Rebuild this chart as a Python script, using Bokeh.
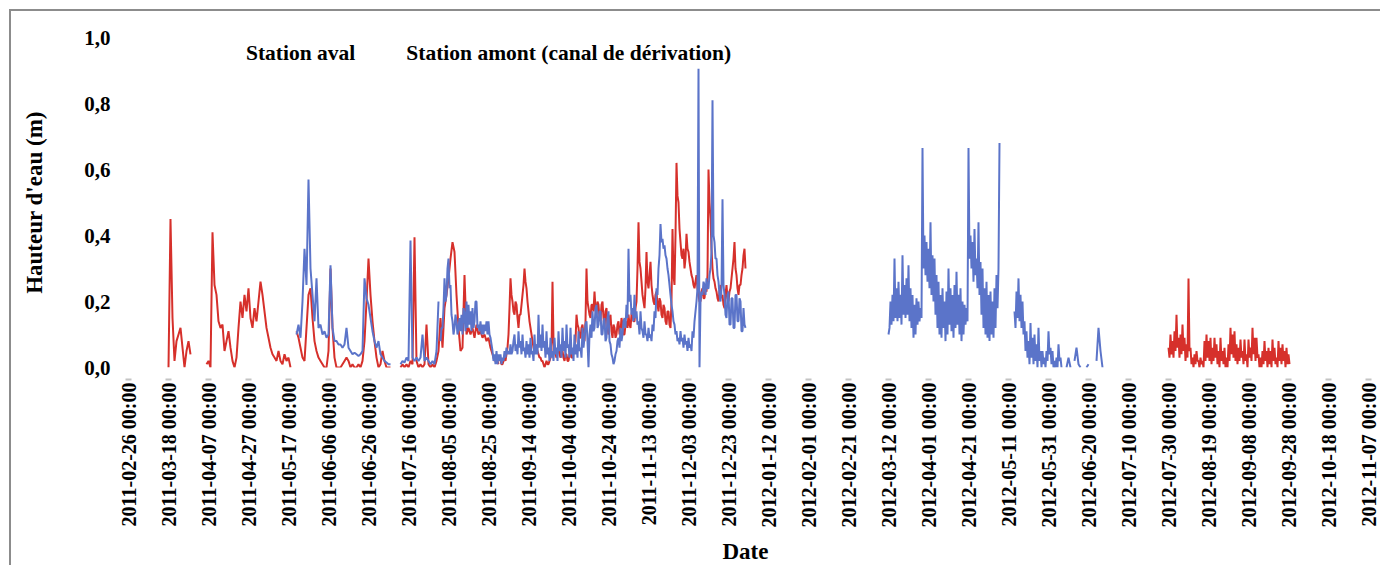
import math
import numpy as np
import pandas as pd
from bokeh.plotting import figure
from bokeh.models import (Range1d, FixedTicker, DatetimeTickFormatter,
                          CustomJSTickFormatter, Legend, LegendItem)
from bokeh.embed import file_html
from bokeh.resources import INLINE

# ---------------- data ----------------
tick_dates = ["2011-02-26", "2011-03-18", "2011-04-07", "2011-04-27", "2011-05-17",
              "2011-06-06", "2011-06-26", "2011-07-16", "2011-08-05", "2011-08-25",
              "2011-09-14", "2011-10-04", "2011-10-24", "2011-11-13", "2011-12-03",
              "2011-12-23", "2012-01-12", "2012-02-01", "2012-02-21", "2012-03-12",
              "2012-04-01", "2012-04-21", "2012-05-11", "2012-05-31", "2012-06-20",
              "2012-07-10", "2012-07-30", "2012-08-19", "2012-09-08", "2012-09-28",
              "2012-10-18", "2012-11-07"]
y_ticks = [0.0, 0.2, 0.4, 0.6, 0.8, 1.0]

# Station aval (water height in m); daily readings unless noted
aval_a_start = "2011-03-18"
aval_a = [0.0, 0.45, 0.15, 0.02, 0.08, 0.10, 0.12, 0.06, 0.0, 0.05, 0.08, 0.04]

aval_b_start = "2011-04-06"
aval_b = [0.01, 0.02, 0.0, 0.41, 0.25, 0.22, 0.14, 0.12, 0.13, 0.05,
          0.08, 0.11, 0.06, 0.02, 0.0, 0.03, 0.12, 0.20, 0.15, 0.22,
          0.17, 0.24, 0.15, 0.12, 0.18, 0.14, 0.20, 0.26, 0.22, 0.17,
          0.12, 0.09, 0.06, 0.04, 0.03, 0.02, 0.05, 0.02, 0.01, 0.04,
          0.02, 0.03, 0.0]

aval_c_start = "2011-05-21"
aval_c = [0.11, 0.09, 0.06, 0.03, 0.02, 0.12, 0.22, 0.24, 0.15, 0.08,
          0.05, 0.03, 0.02, 0.01, 0.0, 0.0, 0.05, 0.30, 0.12, 0.03,
          0.0, 0.0, 0.0, 0.01, 0.02, 0.03, 0.02, 0.0, 0.01, 0.0,
          0.0, 0.01, 0.0, 0.02, 0.08, 0.20, 0.33, 0.22, 0.14, 0.08,
          0.03, 0.0, 0.01, 0.05, 0.02, 0.0, 0.0, 0.0]

aval_d_start = "2011-07-12"
aval_d = [0.0, 0.01, 0.0, 0.01, 0.0, 0.02, 0.01, 0.395, 0.02, 0.0,
          0.01, 0.0, 0.01, 0.13, 0.01, 0.0, 0.01, 0.0, 0.02, 0.05,
          0.15, 0.06, 0.18, 0.22, 0.27, 0.33, 0.38, 0.35, 0.22, 0.12,
          0.05, 0.06, 0.28, 0.10, 0.12, 0.10, 0.12, 0.09, 0.13, 0.10,
          0.11, 0.09, 0.10, 0.08, 0.09, 0.06, 0.04, 0.02, 0.03, 0.01]

# 12-hourly readings (00:00, 12:00)
aval_e_start = "2011-08-31"
aval_e = [0.02, 0.01, 0.01, 0.02, 0.03, 0.02, 0.04, 0.06, 0.10, 0.18,   # 08-31
          0.27, 0.22, 0.20, 0.17, 0.16, 0.20, 0.19, 0.15, 0.12, 0.16,   # 09-05
          0.16, 0.19, 0.22, 0.25, 0.30, 0.26, 0.24, 0.20, 0.17, 0.14,   # 09-10
          0.12, 0.10, 0.08, 0.06, 0.05, 0.07, 0.06, 0.05, 0.04, 0.03,   # 09-15
          0.03, 0.02, 0.02, 0.01, 0.0, 0.01, 0.02, 0.01, 0.01, 0.02,    # 09-20
          0.03, 0.05, 0.26, 0.08, 0.05, 0.04, 0.03, 0.05, 0.06, 0.04,   # 09-25
          0.03, 0.05, 0.05, 0.03, 0.02, 0.04, 0.04, 0.02, 0.02, 0.04,   # 09-30
          0.05, 0.03, 0.03, 0.05, 0.06, 0.08, 0.16, 0.13, 0.12, 0.09,   # 10-05
          0.09, 0.12, 0.13, 0.10, 0.08, 0.14, 0.30, 0.20, 0.18, 0.16,   # 10-10
          0.15, 0.19, 0.19, 0.17, 0.23, 0.18, 0.16, 0.20, 0.19, 0.15,   # 10-15
          0.14, 0.19, 0.20, 0.15, 0.12, 0.17, 0.18, 0.12, 0.10, 0.15,   # 10-20
          0.16, 0.11, 0.09, 0.13, 0.12, 0.09, 0.10, 0.13, 0.14, 0.10,   # 10-25
          0.11, 0.15, 0.13, 0.10, 0.10, 0.13, 0.14, 0.12, 0.16, 0.13,   # 10-30
          0.12, 0.16, 0.18, 0.14, 0.14, 0.18, 0.20, 0.30, 0.44, 0.32,   # 11-04
          0.30, 0.26, 0.22, 0.20, 0.18, 0.24, 0.35, 0.26, 0.24, 0.28,   # 11-09
          0.32, 0.25, 0.22, 0.20, 0.19, 0.22, 0.23, 0.19, 0.17, 0.21,   # 11-14
          0.20, 0.16, 0.15, 0.19, 0.18, 0.14, 0.13, 0.17, 0.17, 0.13,   # 11-19
          0.12, 0.20, 0.42, 0.28, 0.25, 0.40, 0.62, 0.52, 0.50, 0.42,   # 11-24
          0.38, 0.34, 0.33, 0.36, 0.30, 0.33, 0.405, 0.36, 0.35, 0.32,  # 11-29
          0.30, 0.28, 0.27, 0.25, 0.24, 0.26, 0.28, 0.24, 0.22, 0.20,   # 12-04
          0.20, 0.23, 0.24, 0.21, 0.21, 0.24, 0.23, 0.28, 0.60, 0.50,   # 12-09
          0.45, 0.36, 0.30, 0.27, 0.26, 0.24, 0.23, 0.21, 0.20, 0.23,   # 12-14
          0.25, 0.21, 0.22, 0.19, 0.18, 0.22, 0.25, 0.21, 0.20, 0.23,   # 12-19
          0.24, 0.27, 0.30, 0.33, 0.38, 0.30, 0.28, 0.24, 0.22, 0.25,   # 12-24
          0.25, 0.28, 0.30, 0.34, 0.36, 0.30]                           # 12-29

aval_f_start = "2012-07-30"
aval_f = [0.06, 0.03, 0.10, 0.04, 0.08, 0.03, 0.11, 0.05, 0.16, 0.06,
          0.09, 0.03, 0.10, 0.04, 0.13, 0.05, 0.09, 0.02, 0.07, 0.03,
          0.27, 0.05, 0.06, 0.01, 0.03, 0.0, 0.04, 0.01, 0.05, 0.02,
          0.02, 0.0, 0.03, 0.01, 0.02, 0.0, 0.08, 0.02, 0.10, 0.03,
          0.08, 0.02, 0.09, 0.01, 0.06, 0.02, 0.09, 0.03, 0.07, 0.01,
          0.05, 0.0, 0.09, 0.02, 0.05, 0.01, 0.06, 0.0, 0.03, 0.0,
          0.07, 0.02, 0.12, 0.04, 0.10, 0.03, 0.11, 0.02, 0.07, 0.01,
          0.06, 0.02, 0.085, 0.03, 0.05, 0.01, 0.085, 0.02, 0.04, 0.0,
          0.085, 0.03, 0.06, 0.02, 0.12, 0.04, 0.09, 0.02, 0.09, 0.03,
          0.04, 0.0, 0.03, 0.0, 0.05, 0.01, 0.08, 0.02, 0.05, 0.0,
          0.06, 0.01, 0.05, 0.0, 0.085, 0.02, 0.06, 0.01, 0.03, 0.0,
          0.08, 0.02, 0.06, 0.01, 0.07, 0.02, 0.05, 0.0, 0.06, 0.01,
          0.04, 0.01]

# Station amont (canal de dérivation)
amont_a_start = "2011-05-21"
amont_a = [0.10, 0.13, 0.09, 0.20, 0.36, 0.25, 0.57, 0.30, 0.22, 0.14,
           0.27, 0.12, 0.13, 0.10, 0.11, 0.09, 0.10, 0.31, 0.12, 0.08,
           0.08, 0.07, 0.07, 0.06, 0.07, 0.12, 0.06, 0.05, 0.04, 0.045,
           0.04, 0.035, 0.04, 0.05, 0.27, 0.21, 0.19, 0.15, 0.11, 0.08,
           0.06, 0.08, 0.04, 0.03, 0.02, 0.015, 0.01, 0.01]

amont_b_start = "2011-07-12"
amont_b = [0.01, 0.02, 0.015, 0.03, 0.02, 0.385, 0.03, 0.02, 0.03, 0.02,
           0.03, 0.10, 0.02, 0.03, 0.02, 0.01, 0.02, 0.01, 0.05, 0.20]

# 12-hourly readings (00:00, 12:00)
amont_c_start = "2011-08-01"
amont_c = [0.08, 0.12, 0.12, 0.18, 0.27, 0.20, 0.22, 0.30, 0.33, 0.24,   # 08-01
           0.25, 0.16, 0.14, 0.10, 0.12, 0.16, 0.14, 0.10, 0.12, 0.15,   # 08-06
           0.11, 0.16, 0.10, 0.18, 0.16, 0.11, 0.20, 0.12, 0.19, 0.13,   # 08-11
           0.17, 0.11, 0.18, 0.12, 0.14, 0.20, 0.20, 0.12, 0.13, 0.11,   # 08-16
           0.14, 0.10, 0.13, 0.10, 0.13, 0.11, 0.14, 0.10, 0.14, 0.10,   # 08-21
           0.09, 0.07, 0.05, 0.02, 0.04, 0.01, 0.05, 0.01, 0.04, 0.02,   # 08-26
           0.04, 0.01, 0.03, 0.02, 0.05, 0.03, 0.06, 0.04, 0.05, 0.04,   # 08-31
           0.07, 0.04, 0.05, 0.08, 0.10, 0.05, 0.07, 0.04, 0.11, 0.06,   # 09-05
           0.08, 0.04, 0.10, 0.05, 0.06, 0.03, 0.08, 0.04, 0.07, 0.03,   # 09-10
           0.09, 0.04, 0.05, 0.02, 0.10, 0.04, 0.07, 0.04, 0.16, 0.06,   # 09-15
           0.10, 0.05, 0.13, 0.06, 0.08, 0.03, 0.11, 0.04, 0.06, 0.02,   # 09-20
           0.09, 0.03, 0.05, 0.02, 0.09, 0.04, 0.06, 0.02, 0.11, 0.05,   # 09-25
           0.07, 0.03, 0.12, 0.05, 0.08, 0.03, 0.13, 0.06, 0.07, 0.03,   # 09-30
           0.12, 0.04, 0.06, 0.02, 0.10, 0.04, 0.07, 0.03, 0.11, 0.05,   # 10-05
           0.06, 0.03, 0.12, 0.06, 0.09, 0.13, 0.14, 0.08, 0.0, 0.10,    # 10-10
           0.13, 0.09, 0.17, 0.11, 0.12, 0.18, 0.19, 0.12, 0.13, 0.17,   # 10-15
           0.17, 0.10, 0.10, 0.14, 0.15, 0.08, 0.09, 0.15, 0.17, 0.08,   # 10-20
           0.07, 0.04, 0.03, 0.01, 0.02, 0.04, 0.05, 0.08, 0.09, 0.06,   # 10-25
           0.12, 0.08, 0.10, 0.14, 0.15, 0.12, 0.19, 0.15, 0.36, 0.20,   # 10-30
           0.22, 0.16, 0.18, 0.14, 0.22, 0.15, 0.17, 0.13, 0.14, 0.10,   # 11-04
           0.17, 0.12, 0.11, 0.09, 0.14, 0.10, 0.10, 0.08, 0.12, 0.09,   # 11-09
           0.10, 0.08, 0.13, 0.11, 0.17, 0.15, 0.24, 0.22, 0.30, 0.34,   # 11-14
           0.435, 0.38, 0.39, 0.36, 0.37, 0.34, 0.33, 0.30, 0.28, 0.25,  # 11-19
           0.22, 0.19, 0.17, 0.14, 0.13, 0.10, 0.11, 0.08, 0.09, 0.07,   # 11-24
           0.11, 0.08, 0.09, 0.06, 0.10, 0.07, 0.08, 0.05, 0.09, 0.06,   # 11-29
           0.07, 0.05, 0.11, 0.09, 0.14, 0.17, 0.20, 0.24, 0.905, 0.0,   # 12-04
           0.20, 0.23, 0.22, 0.26, 0.25, 0.22, 0.27, 0.24, 0.24, 0.28,   # 12-09
           0.30, 0.35, 0.81, 0.40, 0.38, 0.33, 0.33, 0.28, 0.26, 0.22,   # 12-14
           0.20, 0.24, 0.51, 0.25, 0.22, 0.16, 0.15, 0.22, 0.23, 0.13,   # 12-19
           0.13, 0.21, 0.21, 0.12, 0.12, 0.22, 0.22, 0.14, 0.14, 0.21,   # 12-24
           0.20, 0.11, 0.11, 0.18, 0.13, 0.12]                           # 12-29

amont_d_start = "2012-03-12"
amont_d = [0.10, 0.12, 0.20, 0.13, 0.22, 0.14, 0.33, 0.15, 0.24, 0.14,
           0.26, 0.15, 0.22, 0.13, 0.34, 0.16, 0.25, 0.15, 0.27, 0.16,
           0.31, 0.14, 0.24, 0.12, 0.22, 0.09, 0.19, 0.10, 0.21, 0.13,
           0.20, 0.14, 0.18, 0.15, 0.665, 0.30, 0.40, 0.28, 0.38, 0.26,
           0.36, 0.24, 0.44, 0.22, 0.34, 0.20, 0.33, 0.16, 0.28, 0.12,
           0.26, 0.10, 0.22, 0.09, 0.24, 0.12, 0.20, 0.08, 0.23, 0.10,
           0.30, 0.13, 0.24, 0.11, 0.22, 0.09, 0.25, 0.12, 0.29, 0.13,
           0.22, 0.10, 0.24, 0.08, 0.20, 0.10, 0.19, 0.13, 0.18, 0.14,
           0.665, 0.33, 0.40, 0.30, 0.38, 0.26, 0.42, 0.28, 0.33, 0.24,
           0.44, 0.22, 0.32, 0.16, 0.30, 0.12, 0.24, 0.10, 0.26, 0.09,
           0.22, 0.08, 0.23, 0.10, 0.20, 0.09, 0.24, 0.12, 0.28, 0.18,
           0.30, 0.68]

amont_e_start = "2012-05-14"
amont_e = [0.17, 0.12, 0.23, 0.15, 0.27, 0.14, 0.22, 0.12, 0.20, 0.10,
           0.14, 0.05, 0.11, 0.03, 0.08, 0.01, 0.135, 0.03, 0.09, 0.01,
           0.10, 0.02, 0.07, 0.0, 0.12, 0.02, 0.05, 0.0, 0.05, 0.01,
           0.03, 0.0, 0.05, 0.02, 0.11, 0.04, 0.06, 0.01, 0.05, 0.0,
           0.02, 0.0, 0.03, 0.0, 0.07, 0.02, 0.03, 0.0]

amont_f_start = "2012-06-09"
amont_f = [0.0, 0.03, 0.0]

amont_g_start = "2012-06-13"
amont_g = [0.02, 0.06, 0.01, 0.0]

amont_h_start = "2012-06-19"
amont_h = [0.0, 0.01]

amont_i_start = "2012-06-24"
amont_i = [0.02, 0.12, 0.05, 0.0]


def build(segments):
    xs, ys = [], []
    for start, vals, step_h in segments:
        d0 = pd.Timestamp(start)
        for i, v in enumerate(vals):
            xs.append(d0 + pd.Timedelta(hours=i * step_h))
            ys.append(v)
        xs.append(d0 + pd.Timedelta(hours=len(vals) * step_h))
        ys.append(np.nan)
    return xs, ys


aval_x, aval_y = build([(aval_a_start, aval_a, 24), (aval_b_start, aval_b, 24),
                        (aval_c_start, aval_c, 24), (aval_d_start, aval_d, 24),
                        (aval_e_start, aval_e, 12), (aval_f_start, aval_f, 12)])
amont_x, amont_y = build([(amont_a_start, amont_a, 24), (amont_b_start, amont_b, 24),
                          (amont_c_start, amont_c, 12), (amont_d_start, amont_d, 12),
                          (amont_e_start, amont_e, 12), (amont_f_start, amont_f, 24),
                          (amont_g_start, amont_g, 24), (amont_h_start, amont_h, 24),
                          (amont_i_start, amont_i, 24)])

# ---------------- figure ----------------
FONT = "Liberation Serif"
RED = "#d6302b"
BLUE = "#5b74c9"

p = figure(x_axis_type="datetime", output_backend="svg", toolbar_location=None,
           frame_width=1254, frame_height=330,
           x_range=Range1d(pd.Timestamp("2011-02-21"), pd.Timestamp("2012-11-09")),
           y_range=Range1d(0, 1.0),
           min_border_left=107, min_border_top=26, min_border_right=10,
           min_border_bottom=0, background_fill_color="white",
           styles={"margin-left": "11px", "margin-top": "11px",
                   "box-shadow": "-2px -2px 0px 0px #8c8c8c"})
p.outline_line_color = None
p.xgrid.grid_line_color = None
p.ygrid.grid_line_color = None

r_aval = p.line(aval_x, aval_y, line_color=RED, line_width=2)
r_amont = p.line(amont_x, amont_y, line_color=BLUE, line_width=2)

# axes
xa = p.xaxis[0]
xa.ticker = FixedTicker(ticks=[pd.Timestamp(d).value // 10**6 for d in tick_dates])
fmt = "%Y-%m-%d %H:%M"
xa.formatter = DatetimeTickFormatter(microseconds=fmt, milliseconds=fmt, seconds=fmt,
                                     minsec=fmt, minutes=fmt, hourmin=fmt, hours=fmt,
                                     days=fmt, months=fmt, years=fmt)
xa.major_label_orientation = math.pi / 2
xa.major_label_text_font = FONT
xa.major_label_text_font_style = "bold"
xa.major_label_text_font_size = "20px"
xa.major_label_text_color = "black"
xa.axis_line_color = None
xa.major_tick_line_color = "#c4c4c4"
xa.major_tick_line_width = 6
xa.major_tick_in = -11
xa.major_tick_out = 13
xa.major_label_standoff = 2
xa.minor_tick_line_color = None
xa.axis_label = "Date"
xa.axis_label_text_font = FONT
xa.axis_label_text_font_style = "bold"
xa.axis_label_text_font_size = "23px"
xa.axis_label_text_color = "black"
xa.axis_label_standoff = 9

ya = p.yaxis[0]
ya.ticker = FixedTicker(ticks=y_ticks)
ya.formatter = CustomJSTickFormatter(code="return tick.toFixed(1).replace('.', ',');")
ya.major_label_text_font = FONT
ya.major_label_text_font_style = "bold"
ya.major_label_text_font_size = "21px"
ya.major_label_text_color = "black"
ya.major_label_standoff = 2
ya.axis_line_color = None
ya.major_tick_line_color = None
ya.minor_tick_line_color = None
ya.axis_label = "Hauteur d'eau (m)"
ya.axis_label_text_font = FONT
ya.axis_label_text_font_style = "bold"
ya.axis_label_text_font_size = "23px"
ya.axis_label_text_color = "black"
ya.axis_label_standoff = 34

# legend (proxies match the reference's faint markers)
proxy_aval = p.line([], [], line_color="#e9a0a0", line_width=2)
proxy_amont = p.line([], [], line_color="#ffffff", line_width=2)
legend = Legend(items=[LegendItem(label="Station aval", renderers=[proxy_aval]),
                       LegendItem(label="Station amont (canal de dérivation)",
                                  renderers=[proxy_amont])],
                location=(110, 301), orientation="horizontal",
                glyph_width=10, glyph_height=20, label_height=20,
                label_standoff=8, spacing=33, padding=0, margin=0,
                border_line_color=None, background_fill_alpha=0,
                label_text_font=FONT, label_text_font_style="bold",
                label_text_font_size="21.5px", label_text_color="black")
p.add_layout(legend, "center")

open("out.html", "w").write(file_html(p, INLINE))
